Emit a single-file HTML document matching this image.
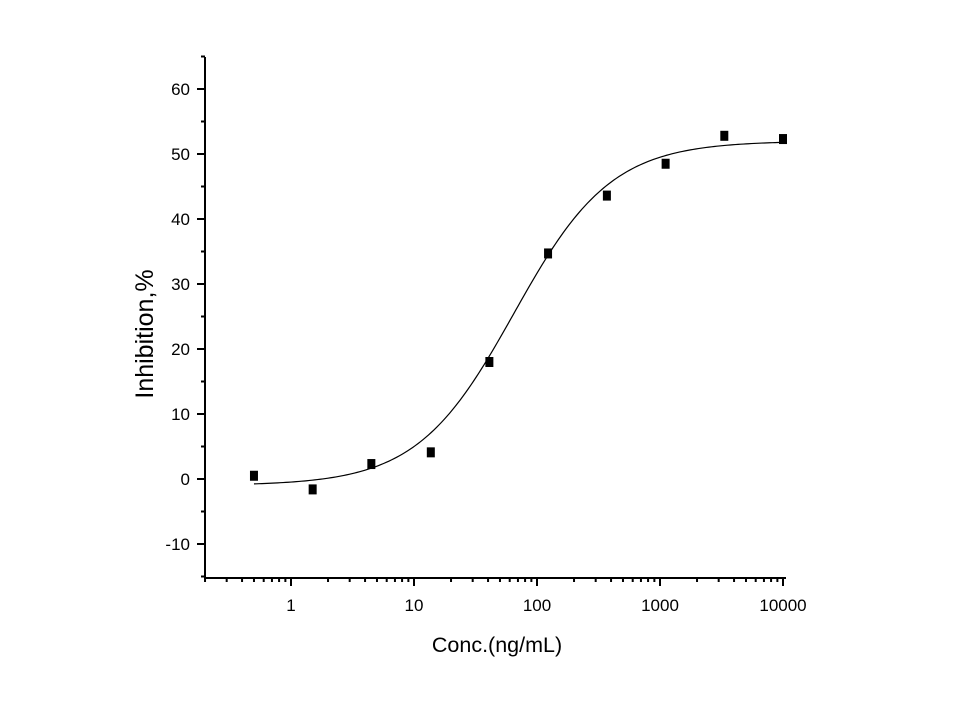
<!DOCTYPE html>
<html><head><meta charset="utf-8"><style>
html,body{margin:0;padding:0;background:#fff;width:960px;height:720px;overflow:hidden}
text{font-family:"Liberation Sans",Arial,sans-serif;fill:#000}
</style></head><body>
<svg id="s" width="960" height="720" viewBox="0 0 960 720" xmlns="http://www.w3.org/2000/svg">
<g stroke="#000" stroke-width="2" fill="none" id="ax">
<line x1="205" y1="57" x2="205" y2="578"/>
<line x1="204" y1="578" x2="786" y2="578"/>
</g>
<path id="curve" fill="none" stroke="#000" stroke-width="1.2"/>
<g id="pts" fill="#000"></g>
<g font-size="17" text-anchor="end" id="yl"></g>
<g font-size="17" text-anchor="middle" id="xl"></g>
<text x="497" y="652" font-size="21.5" text-anchor="middle">Conc.(ng/mL)</text>
<text transform="translate(153,334) rotate(-90)" font-size="25" text-anchor="middle">Inhibition,%</text>
</svg>
<script>
var ns="http://www.w3.org/2000/svg";
function X(v){return 291+123*Math.log10(v);}
function Y(v){return 479-6.5*v;}
function el(t,a,p,txt){var e=document.createElementNS(ns,t);for(var k in a)e.setAttribute(k,a[k]);if(txt!=null)e.textContent=txt;p.appendChild(e);}
var ax=document.getElementById('ax');
for(var v=-15;v<=65;v+=5){var maj=v%10==0;el('line',{x1:205-(maj?8:4),y1:Y(v),x2:205,y2:Y(v)},ax);
 if(maj)el('text',{x:190,y:Y(v)+6},document.getElementById('yl'),String(v));}
for(var d=-1;d<=4;d++){for(var m=1;m<10;m++){var v=m*Math.pow(10,d);if(v<0.2||v>10000)continue;var x=X(v);
 el('line',{x1:x,y1:578,x2:x,y2:578+(m==1?8:4)},ax);
 if(m==1)el('text',{x:x,y:611},document.getElementById('xl'),String(v));}}
var b=-1,t=52,c=65,h=1.1,dpath="";
for(var i=0;i<=200;i++){var lx=Math.log10(0.5)+i*(4-Math.log10(0.5))/200;var v=Math.pow(10,lx);
 var y=t+(b-t)/(1+Math.pow(v/c,h));dpath+=(i?"L":"M")+X(v).toFixed(2)+","+Y(y).toFixed(2);}
document.getElementById('curve').setAttribute('d',dpath);
var data=[[0.5,0.5],[1.5,-1.6],[4.5,2.3],[13.7,4.1],[41,18],[123,34.7],[370,43.6],[1111,48.5],[3333,52.8],[10000,52.3]];
data.forEach(function(p){el('rect',{x:X(p[0])-4,y:Y(p[1])-5,width:8,height:10},document.getElementById('pts'));});
</script>
</body></html>
